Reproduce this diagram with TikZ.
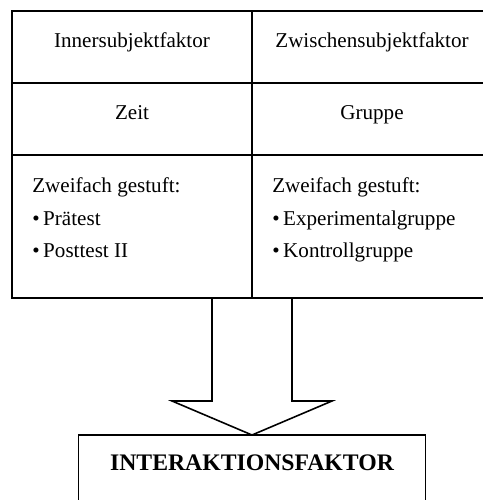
\documentclass[tikz,border=0pt]{standalone}
\usepackage{fontspec}
\setmainfont{Liberation Serif}
\usepackage{tikz}
\usetikzlibrary{positioning}

\tikzset{
  cell/.style={draw,line width=1.1pt,minimum width=4.8cm,inner sep=0pt,outer sep=0pt,
    text height=0.5em,text depth=0.4em,anchor=north west},
  head/.style={inner sep=0pt,text height=0.5em,text depth=0.4em},
  item/.style={anchor=base west,inner sep=0pt},
  arrowline/.style={line width=0.9pt,line join=miter}
}

\begin{document}
\begin{tikzpicture}[font=\fontsize{12}{14}\selectfont]
      \useasboundingbox (0,0) rectangle (9.64,-10);
      % table: header, factor, levels (right column runs off the page)
      \node[cell,minimum height=1.44cm] (inner) at (0.24,-0.22) {Innersubjektfaktor};
      \node[cell,minimum height=1.44cm,minimum width=5.6cm] (zwischen) at (inner.north east) {};
      \node[cell,minimum height=1.44cm] (zeit) at (inner.south west) {Zeit};
      \node[cell,minimum height=1.44cm,minimum width=5.6cm] (gruppe) at (zeit.north east) {};
      \node[cell,minimum height=2.86cm] (stufe1) at (zeit.south west) {};
      \node[cell,minimum height=2.86cm,minimum width=5.6cm] (stufe2) at (stufe1.north east) {};
      \node[head] (zwischentext) at ([xshift=2.4cm]zwischen.west) {Zwischensubjektfaktor};
      \node[head] (gruppetext) at ([xshift=2.4cm]gruppe.west) {Gruppe};
      % levels of each factor
      \node[item] (zwei1) at ([xshift=0.4cm,yshift=-0.76cm]stufe1.north west) {Zweifach gestuft:};
      \node[item] (prae) at ([yshift=-0.64cm]zwei1.base west) {\textbullet\,Prätest};
      \node[item] (post) at ([yshift=-0.64cm]prae.base west) {\textbullet\,Posttest II};
      \node[item] (zwei2) at ([xshift=0.4cm,yshift=-0.76cm]stufe2.north west) {Zweifach gestuft:};
      \node[item] (exp) at ([yshift=-0.64cm]zwei2.base west) {\textbullet\,Experimentalgruppe};
      \node[item] (kontr) at ([yshift=-0.64cm]exp.base west) {\textbullet\,Kontrollgruppe};
      % result box
      \node[draw,line width=0.9pt,outer sep=0pt,minimum width=6.94cm,minimum height=1.6cm,anchor=north] (box) at ([yshift=-2.74cm]stufe1.south east) {};
      \node[anchor=base,inner sep=0pt,font=\fontsize{13.5}{15}\selectfont\bfseries] (titel) at ([yshift=-0.70cm]box.north) {INTERAKTIONSFAKTOR};
      % block arrow
      \draw[arrowline] ([xshift=-0.8cm]stufe1.south east) -- ++(0,-2.06) -- ++(-0.8,0) -- (box.north)
          -- ++(1.6,0.68) -- ++(-0.8,0) -- ([xshift=0.8cm]stufe1.south east);
    \end{tikzpicture}
\end{document}
